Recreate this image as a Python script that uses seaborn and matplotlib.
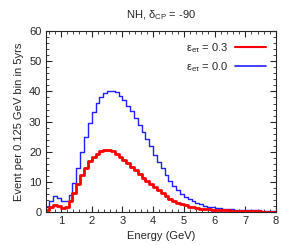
import numpy as np
import pandas as pd
import matplotlib
matplotlib.use("Agg")
import matplotlib.pyplot as plt
from matplotlib.lines import Line2D
from matplotlib.ticker import MultipleLocator
import seaborn as sns

bin_width = 0.125
bin_left = [0.5 + 0.125 * i for i in range(60)]

eps_03 = [0.8, 1.6, 2.4, 2.1, 1.5, 1.9, 3.7, 6.5, 9.5, 12.3,
          14.7, 16.9, 18.4, 19.4, 20.2, 20.6, 20.6, 20.2, 19.4, 18.4,
          17.4, 16.3, 15.0, 13.9, 12.6, 11.5, 10.4, 9.4, 8.4, 7.3,
          6.3, 5.4, 4.5, 3.8, 3.2, 2.7, 2.3, 1.9, 1.6, 1.4,
          1.2, 1.1, 1.0, 0.9, 0.8, 0.7, 0.6, 0.6, 0.5, 0.5,
          0.4, 0.4, 0.4, 0.3, 0.3, 0.3, 0.2, 0.2, 0.2, 0.2]

eps_00 = [1.9, 3.7, 5.3, 4.8, 3.6, 3.6, 5.6, 9.6, 14.6, 19.8,
          24.8, 29.4, 33.1, 36.2, 38.3, 39.4, 40.2, 40.2, 39.7, 38.6,
          37.0, 35.3, 33.6, 31.3, 29.0, 26.6, 24.4, 21.8, 19.1, 16.8,
          14.5, 12.4, 10.5, 8.8, 7.4, 6.1, 5.1, 4.3, 3.6, 3.0,
          2.6, 2.2, 1.9, 1.7, 1.5, 1.3, 1.2, 1.1, 1.0, 0.9,
          0.8, 0.8, 0.7, 0.7, 0.6, 0.6, 0.5, 0.5, 0.5, 0.4]

labels = [r"$\mathrm{\varepsilon_{e\tau}}$ = 0.3", r"$\mathrm{\varepsilon_{e\tau}}$ = 0.0"]
colors = ["#ff0000", "#2020ff"]
widths = [2.0, 1.0]

sns.set_style("ticks")
plt.rcParams["font.family"] = ["Liberation Sans", "DejaVu Sans"]
plt.rcParams["mathtext.fontset"] = "custom"
plt.rcParams["mathtext.rm"] = "Liberation Sans"
plt.rcParams["mathtext.it"] = "Liberation Sans"
plt.rcParams["mathtext.sf"] = "Liberation Sans"

fig = plt.figure(figsize=(2.94, 2.45), dpi=100)
ax = fig.add_axes([45.6 / 294, 1 - 212.3 / 245, (276 - 45.6) / 294, (212.3 - 31) / 245])

edges = [float(e) for e in bin_left] + [bin_left[-1] + bin_width]
df = pd.DataFrame({"E": np.array(bin_left) + bin_width / 2, "r": eps_03, "b": eps_00})

sns.histplot(data=df, x="E", weights="b", bins=edges, element="step", fill=False,
             color=colors[1], linewidth=widths[1], ax=ax)
sns.histplot(data=df, x="E", weights="r", bins=edges, element="step", fill=False,
             color=colors[0], linewidth=widths[0], ax=ax)

ax.set_xlim(0.5, 8)
ax.set_ylim(0, 60)
ax.xaxis.set_major_locator(MultipleLocator(1))
ax.xaxis.set_minor_locator(MultipleLocator(0.2))
ax.yaxis.set_major_locator(MultipleLocator(10))
ax.yaxis.set_minor_locator(MultipleLocator(2))
ax.tick_params(which="both", direction="in", top=True, right=True, labelsize=8, pad=3)
ax.tick_params(which="major", length=4, width=0.8)
ax.tick_params(which="minor", length=2, width=0.6)
for s in ax.spines.values():
    s.set_linewidth(0.8)

ax.set_xlabel("Energy (GeV)", fontsize=8, labelpad=3)
ax.set_ylabel("Event per 0.125 GeV bin in 5yrs", fontsize=8, labelpad=4)
ax.set_title(r"NH, $\mathrm{\delta_{CP}}$ = -90", fontsize=8, pad=9)

handles = [Line2D([], [], color=colors[0], linewidth=1.5),
           Line2D([], [], color=colors[1], linewidth=1.2)]
ax.legend(handles, labels, loc="upper right", frameon=False, markerfirst=False,
          fontsize=8, handlelength=2.8, handletextpad=0.6, borderaxespad=0.5,
          labelspacing=0.45)

fig.savefig("out.png", dpi=100)
